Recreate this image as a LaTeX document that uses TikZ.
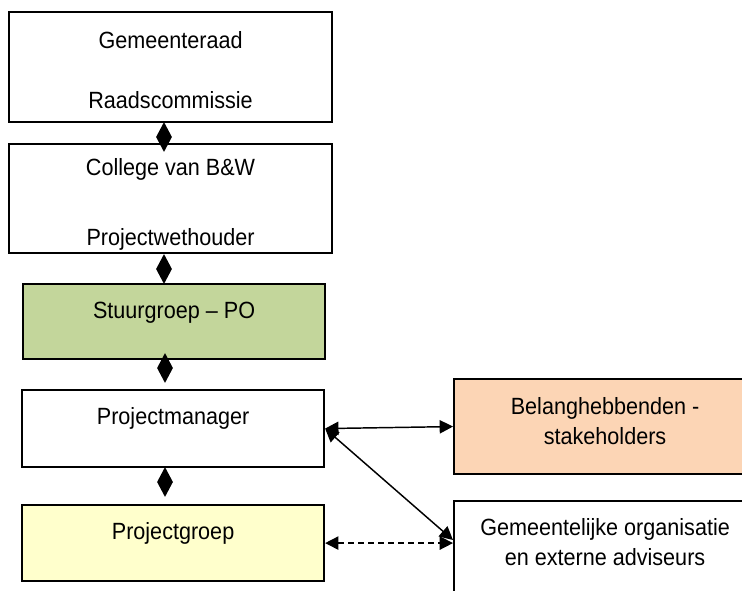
\documentclass[tikz,border=0pt]{standalone}
\usepackage{fontspec}
\setmainfont[FakeStretch=0.92]{Liberation Sans}
\usepackage{tikz}
\usetikzlibrary{arrows.meta, shapes.geometric, positioning}
\definecolor{stuurgroen}{RGB}{195,214,155}
\definecolor{belangoranje}{RGB}{252,213,181}
\definecolor{groepgeel}{RGB}{255,255,204}
\tikzset{
    box/.style = {rectangle, draw, line width=1.6pt, anchor=north west,
                  align=center, inner sep=0pt, minimum width=226.5pt,
                  font=\fontsize{17.6pt}{22.1pt}\selectfont},
    joint/.style = {diamond, fill, inner sep=0pt, minimum width=12pt,
                    minimum height=22.5pt},
    link/.style = {{Triangle[length=10pt,width=10pt]}-{Triangle[length=10pt,width=10pt]},
                   line width=1.1pt}
    }

\begin{document}
\begin{tikzpicture}[
      x = 0.75pt, y = -0.75pt % pixel grid of the reference
    ]
    \path[use as bounding box, clip] (0,0) rectangle (742,590);

    % bestuurslijn
    \node[box, minimum width=242.25pt, text height=72pt, text depth=10.5pt] (raad) at (8,11)
        {Gemeenteraad\\[22.9pt]Raadscommissie};
    \node[box, minimum width=242.25pt, text height=75.75pt, text depth=6pt] (college) at (8,143)
        {College van B\&W\\[30.4pt]Projectwethouder};
    \node[box, fill=stuurgroen, text height=25.5pt, text depth=30.75pt] (stuur) at (22,283)
        {Stuurgroep -- PO};
    \node[box, text height=25.5pt, text depth=32.25pt] (pm) at (21,389) {Projectmanager};
    \node[box, fill=groepgeel, text height=25.5pt, text depth=31.5pt] (groep) at (21,504) {Projectgroep};

    % omgeving
    \node[box, fill=belangoranje, text height=48.75pt, text depth=22.5pt] (belang) at (453,378)
        {Belanghebbenden -\\stakeholders};
    \node[box, text height=48pt, text depth=34.5pt] (org) at (453,500)
        {Gemeentelijke organisatie\\en externe adviseurs};

    \node[joint] (j1) at (164,137) {};
    \node[joint] (j2) at (164,269) {};
    \node[joint] (j3) at (165,368) {};
    \node[joint] (j4) at (165,482) {};

    \draw[link] (pm.east) -- (belang.west);
    \draw[link] (pm.east) -- ([yshift=-30pt]org.north west);
    \draw[link, dash pattern=on 4.5pt off 3pt] (groep.east) -- (groep.east -| org.west);

\end{tikzpicture}
\end{document}
